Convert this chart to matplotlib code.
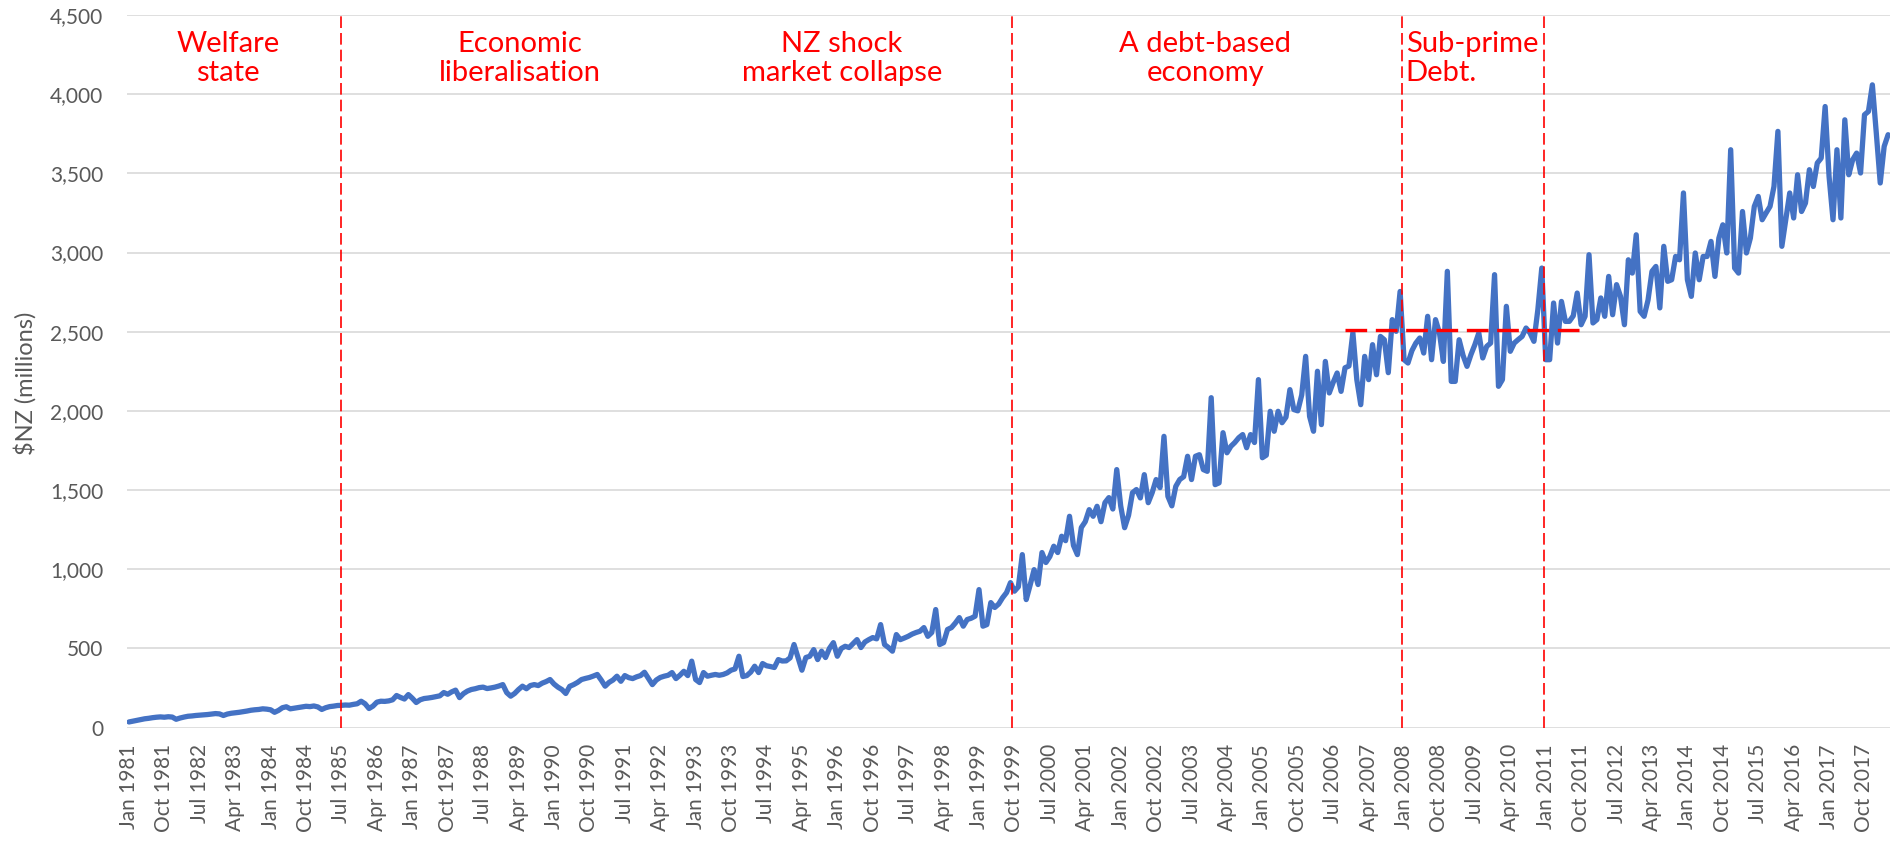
import pandas as pd
import matplotlib.pyplot as plt
from matplotlib.ticker import FuncFormatter

plt.rcParams['font.family'] = ['Lato', 'DejaVu Sans']

# Monthly values, $NZ millions (Jan 1981 - Apr 2018)
values_1981_1990 = [
    35, 40, 45, 50, 55, 58, 62, 65, 67, 65, 68, 66,
    52, 60, 66, 71, 73, 76, 78, 80, 82, 85, 88, 86,
    76, 85, 90, 93, 96, 100, 104, 109, 112, 114, 118, 116,
    112, 96, 108, 125, 131, 118, 122, 126, 130, 134, 132, 136,
    130, 114, 125, 132, 135, 139, 140, 142, 141, 146, 150, 166,
    150, 120, 135, 160, 166, 165, 168, 175, 202, 190, 180, 208,
    185, 158, 175, 183, 186, 190, 195, 200, 221, 210, 225, 236,
    189, 214, 230, 240, 245, 252, 255, 246, 250, 255, 262, 271,
    220, 198, 215, 240, 261, 245, 265, 271, 265, 280, 290, 303,
    275, 255, 240, 215, 260, 271, 285, 303, 310, 316, 325, 335,
]
values_1991_2000 = [
    300, 261, 285, 300, 324, 292, 328, 315, 309, 320, 328, 349,
    310, 271, 300, 316, 324, 330, 347, 309, 330, 355, 328, 419,
    303, 284, 347, 324, 330, 335, 330, 335, 345, 362, 370, 450,
    322, 328, 350, 387, 347, 404, 390, 385, 379, 429, 420, 421,
    440, 524, 442, 362, 442, 450, 492, 429, 482, 442, 500, 536,
    450, 499, 513, 505, 530, 555, 505, 540, 555, 568, 560, 650,
    524, 505, 482, 587, 555, 565, 576, 590, 600, 608, 631, 576,
    600, 745, 524, 536, 619, 631, 660, 694, 640, 682, 690, 703,
    871, 640, 650, 789, 758, 780, 820, 852, 915, 861, 889, 1092,
    808, 900, 997, 903, 1105, 1042, 1080, 1145, 1105, 1208, 1180, 1334,
]
values_2001_2010 = [
    1150, 1092, 1263, 1300, 1376, 1334, 1397, 1300, 1420, 1452, 1380, 1629,
    1400, 1262, 1340, 1483, 1503, 1450, 1597, 1420, 1483, 1566, 1515, 1839,
    1460, 1400, 1523, 1566, 1584, 1713, 1566, 1713, 1723, 1629, 1618, 2083,
    1534, 1545, 1862, 1735, 1776, 1800, 1830, 1850, 1767, 1850, 1800, 2197,
    1704, 1720, 1997, 1871, 1997, 1925, 1960, 2134, 2008, 2000, 2100, 2344,
    1965, 1871, 2250, 1913, 2312, 2113, 2180, 2239, 2123, 2272, 2283, 2494,
    2197, 2039, 2344, 2197, 2418, 2228, 2470, 2449, 2241, 2576, 2502, 2754,
    2323, 2302, 2380, 2428, 2460, 2365, 2597, 2323, 2576, 2492, 2312, 2881,
    2186, 2186, 2449, 2350, 2281, 2355, 2418, 2492, 2334, 2407, 2428, 2860,
    2155, 2197, 2660, 2376, 2428, 2450, 2470, 2523, 2492, 2439, 2639, 2902,
]
values_2011_2018 = [
    2323, 2323, 2681, 2428, 2691, 2565, 2565, 2600, 2744, 2544, 2597, 2986,
    2555, 2576, 2713, 2597, 2849, 2607, 2797, 2723, 2544, 2954, 2870, 3112,
    2628, 2597, 2700, 2881, 2912, 2650, 3039, 2818, 2828, 2975, 2954, 3376,
    2828, 2723, 2997, 2828, 2975, 2975, 3070, 2849, 3091, 3175, 2997, 3649,
    2902, 2870, 3259, 2997, 3091, 3291, 3354, 3207, 3250, 3291, 3417, 3765,
    3039, 3207, 3376, 3218, 3491, 3259, 3312, 3523, 3417, 3565, 3596, 3922,
    3480, 3207, 3649, 3218, 3838, 3491, 3586, 3628, 3502, 3870, 3891, 4059,
    3754, 3439, 3670, 3744,
]
values = values_1981_1990 + values_1991_2000 + values_2001_2010 + values_2011_2018
months = pd.date_range('1981-01-01', periods=len(values), freq='MS')

period_labels = ['Welfare\nstate', 'Economic\nliberalisation', 'NZ shock\nmarket collapse',
                 'A debt-based\neconomy', 'Sub-prime\nDebt.']
period_breaks = [53.9, 224.3, 323.5, 359.5]   # in month positions
subprime_level = 2510

n = len(values)
x = range(n)

fig = plt.figure(figsize=(18.95, 8.43), dpi=100)
ax = fig.add_axes([0.067, 0.137, 0.9304, 0.8452])

ax.plot(x, values, color='#4472C4', lw=3.8, solid_joinstyle='round', solid_capstyle='round', zorder=3)

# period dividers
for b in period_breaks:
    ax.axvline(b, color='red', lw=1.2, dashes=(7, 3), zorder=4)
ax.plot([309, 369], [subprime_level, subprime_level], color='red', lw=2.4, dashes=(6.5, 2.6), zorder=4)

# period labels
label_x = [25.2, 99.4, 181.2, 273.5, 324.4]
for lab, lx in zip(period_labels, label_x):
    ha = 'left' if lab.startswith('Sub') else 'center'
    ax.text(lx, 4225, lab, color='red', fontsize=21, ha=ha, va='center',
            multialignment='left' if ha == 'left' else 'center', linespacing=1.15)

ax.set_xlim(-0.5, n - 0.5)
ax.set_ylim(0, 4500)
ax.set_yticks(range(0, 4501, 500))
ax.yaxis.set_major_formatter(FuncFormatter(lambda v, p: f'{int(v):,}'))

tick_pos = list(range(0, n, 9))
ax.set_xticks(tick_pos)
ax.set_xticklabels([months[i].strftime('%b %Y') for i in tick_pos], rotation=90)

ax.yaxis.grid(True, color='#D9D9D9', lw=1.2)
ax.set_axisbelow(True)
for s in ax.spines.values():
    s.set_visible(False)
ax.tick_params(axis='both', length=0, labelsize=15, labelcolor='#595959')
ax.tick_params(axis='y', pad=17)
ax.tick_params(axis='x', pad=12)

fig.text(0.0135, 0.545, '$NZ (millions)', rotation=90, ha='center', va='center',
         fontsize=17, color='#595959')

fig.savefig('out.png', dpi=100)
